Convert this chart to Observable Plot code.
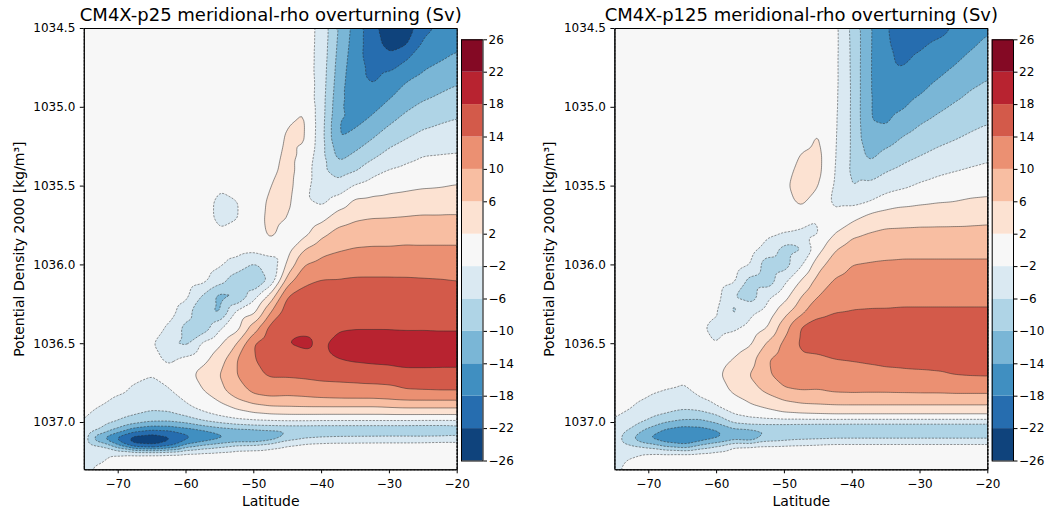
<!DOCTYPE html>
<html>
<head>
<meta charset="utf-8">
<script src="https://cdn.jsdelivr.net/npm/d3@7"></script>
<script src="https://cdn.jsdelivr.net/npm/@observablehq/plot@0.6"></script>
<style>
  html, body { margin: 0; padding: 0; background: #ffffff; }
  #fig { position: relative; width: 1048px; height: 511px; overflow: hidden; background: #ffffff; }
  #fig > svg, #fig > figure { position: absolute; top: 0; margin: 0; }
</style>
</head>
<body>
<div id="fig"></div>
<script>
// ---- data ----
const lat = [-75,-72.5,-70,-67.5,-65,-62.5,-60,-57.5,-55,-52.5,-50,-47.5,-45,-42.5,-40,-37.5,-35,-32.5,-30,-27.5,-25,-22.5,-20];
const rho = [1034.5,1034.6,1034.7,1034.8,1034.9,1035.0,1035.1,1035.2,1035.3,1035.4,1035.5,1035.6,1035.7,1035.8,1035.9,1036.0,1036.1,1036.2,1036.3,1036.4,1036.5,1036.6,1036.7,1036.8,1036.85,1036.9,1036.95,1037.0,1037.05,1037.1,1037.15,1037.2,1037.25,1037.3];

// one array per latitude column (values along rho, Sv)
const p25 = [
 [0,0,0,0,0,0,0,0,0,0,0,0,0,0,0,0,0,0,0,0,0,0,0,0,-0.3,-1.2,-1.6,-1.8,-3,-3.5,-3.5,-3.2,-3,-2.6],
 [0,0,0,0,0,0,0,0,0,0,0,0,0,0,0,0,0,0,0,0,0,0,0,-0.3,-1,-2.2,-2.8,-4.5,-6.5,-15,-5.5,-2.8,-2.2,-1.2],
 [0,0,0,0,0,0,0,0,0,0,0,0,0,0,0,0,0,0,0,0,0,0,-0.5,-1.3,-2.6,-3.6,-4.6,-6.5,-11.5,-20.5,-13,-1.8,-0.8,-0.3],
 [0,0,0,0,0,0,0,0,0,0,0,0,0,0,0,0,0,0,0,0,0,-0.3,-1.3,-2.6,-3.3,-4.6,-5.8,-8.8,-16.5,-25,-21,-1,-0.3,0],
 [0,0,0,0,0,0,0,0,0,0,0,0,0,0,0,0,0,0,0,-0.3,-1.5,-1.2,-1.9,-3.3,-3.8,-5.3,-6.8,-10.3,-18.5,-25.5,-22,-0.8,0,0],
 [0,0,0,0,0,0,0,0,0,0,0,0,0,0,0,0,0,0,-0.5,-2.5,-6.5,-2.6,-0.8,-2.3,-3.2,-5,-6.6,-10.5,-18,-23.5,-19,-0.6,0,0],
 [0,0,0,0,0,0,0,0,0,0,0,0,0,0,0,0,0,-1,-4,-7.5,-6.8,-1,0.5,-0.5,-1.6,-2.5,-5.2,-9.5,-16,-20,-12,-0.5,0,0],
 [0,0,0,0,0,0,0,0,0,0,0,0,0,0,0,0,-0.8,-6.5,-10.5,-8.5,-1,0.8,3.5,1.8,0,-0.8,-3,-7,-14.5,-17.5,-9,-0.4,0,0],
 [0,0,0,0,0,0,0,0,0,0,-1.4,-3.2,-3.2,-1.4,-0.3,-1.5,-4.5,-11.5,-10.8,-2.5,1.5,4,6,5,2.8,0.8,-1.3,-5.5,-12.5,-15.5,-7,-0.3,0,0],
 [0,0,0,0,0,0,0,0,0,0,0,-2.2,-2.2,-0.5,-0.3,-3.5,-8.5,-11,-1,0.5,6,10,10,8,6,2.8,0.2,-4.2,-11.5,-14.5,-5,0,0,0],
 [0,0,0,0,0,0,0,0,0,0,0,0,0.3,0.3,-0.8,-6.5,-10.5,-3.5,1,8,14,13.7,13,10.8,8.5,4.5,1.2,-3.5,-11,-15,-4.5,0,0,0],
 [0,0,0,0,0,0,0,0.2,0.4,1.0,2.0,2.8,3.0,2.6,0.8,-5,-5,3.5,10,15.5,17.3,16.5,14.5,11.2,9.5,5.6,1.8,-3.2,-10.5,-13,-3,0,0,0],
 [0,0,0,0.1,0.4,1.0,1.8,2.5,3.0,3.3,3.2,2.8,2.0,0.7,0.5,3,8,14.3,16,17.4,18.05,16.5,14.5,11,9.3,5.8,2,-3,-10.2,-8,-1.5,0,0,0],
 [0,0,0.1,0.3,0.7,1.9,2.5,2.4,1.3,0.3,-0.5,-1.2,-1.3,0.8,6,10,13.4,15,16.4,17.5,18.5,17,14.8,11.3,9.5,6,2,-3,-10.2,-6,-0.5,0,0,0],
 [-3.3,-3.4,-3.6,-3.8,-4,-4.2,-4.4,-4.6,-4.9,-5.3,-4.8,-2.8,0.5,5,8.5,11.4,14.2,15.3,16.5,17.3,17.5,17.2,15.3,11.8,9.8,6,2,-3.2,-10.3,-5,-0.3,0,0,0],
 [-10.3,-10.8,-11.3,-11.8,-12.4,-13.1,-14.2,-14.1,-11.5,-8,-4.5,-0.3,4.2,7.2,9.6,12,14.2,15.4,16.6,17.6,19,18,15.5,12,10,6,2,-3.2,-10.4,-4.5,-0.3,0,0,0],
 [-15.6,-16,-16.5,-17,-17.3,-16.5,-14.8,-12.3,-9.4,-6.3,-1.5,2.9,5.4,8,10.2,12.6,14.4,15.6,16.7,17.8,19.6,18.5,15.7,12.2,10,6,2,-3.2,-10.4,-4.4,-0.3,0,0,0],
 [-20.5,-20.2,-19.6,-18.8,-17.3,-15.1,-12.7,-10,-7.1,-3.6,0,3.1,5.9,8.2,10.4,12.7,14.4,15.5,16.7,17.8,19.6,18.8,16,12.3,10,6,2,-3.2,-10.4,-4.3,-0.3,0,0,0],
 [-25,-23.5,-20.5,-17.2,-15.1,-12.8,-10.3,-7.6,-4.8,-1.8,0.8,3.3,6,8.2,10.4,12.7,14.4,15.5,16.7,17.8,19.5,19,16.2,12.6,10.3,6.4,2,-3.2,-10.4,-4.2,-0.3,0,0,0],
 [-24.5,-22.3,-18,-14.9,-12.7,-10.6,-8.4,-6,-3.3,-1,1.2,3.6,6.2,8.4,10.6,12.6,14.4,15.5,16.6,17.7,19.5,19.3,16.8,13.6,10.7,6.8,2,-3.2,-10.4,-4.2,-0.3,0,0,0],
 [-19,-17.3,-15.3,-13.4,-11.3,-9.1,-6.9,-4.6,-2.2,-0.3,1.6,4.1,6.4,8.5,10.5,12.5,14.3,15.4,16.5,17.7,19.6,19.3,16.8,13.8,10.7,6.8,2,-3.3,-10.5,-4.2,-0.2,0,0,0],
 [-17.5,-15.8,-14.2,-12.1,-10.2,-8.2,-6.1,-4.1,-2,-0.1,1.8,4,6.4,8.5,10.5,12.4,14.2,15.3,16.4,17.6,19.6,19.3,16.7,14,10.7,6.8,2,-3.3,-10.5,-4,0,0,0,0],
 [-16,-14.8,-13,-11.1,-9.2,-7.3,-5.5,-3.6,-1.8,0.2,2.2,4.3,6.4,8.5,10.5,12.3,14,15.2,16.4,17.6,19.6,19.3,16.7,14,10.7,6.8,2,-3.3,-9.5,-4,0,0,0,0]
];

const p125 = [
 [0,0,0,0,0,0,0,0,0,0,0,0,0,0,0,0,0,0,0,0,0,0,0,0,0,-0.8,-1.6,-2.3,-3,-3.4,-3.4,-3.2,-3,-2.6],
 [0,0,0,0,0,0,0,0,0,0,0,0,0,0,0,0,0,0,0,0,0,0,0,0,-1.2,-1.9,-2.8,-4.3,-6.8,-10.2,-5.5,-2.6,-1.5,-0.8],
 [0,0,0,0,0,0,0,0,0,0,0,0,0,0,0,0,0,0,0,0,0,0,0,-1.5,-2.3,-3.5,-4.8,-7,-11.5,-15,-7.5,-1.5,-0.5,0],
 [0,0,0,0,0,0,0,0,0,0,0,0,0,0,0,0,0,0,0,0,0,0,-0.8,-2.1,-3.2,-4.5,-6.2,-10,-15,-17.2,-11,-1.2,-0.2,0],
 [0,0,0,0,0,0,0,0,0,0,0,0,0,0,0,0,0,0,0,0,0,-0.6,-1.6,-2.4,-3.8,-5.2,-7.5,-11.5,-16.5,-17.8,-13,-0.8,0,0],
 [0,0,0,0,0,0,0,0,0,0,0,0,0,0,0,0,0,0,-0.5,-1.5,-1.6,-0.8,-0.8,-1.6,-2.1,-4.3,-7.8,-11.5,-16,-17,-9,-0.6,0,0],
 [0,0,0,0,0,0,0,0,0,0,0,0,0,0,0,0,0,-0.5,-1.7,-3,-2,0.2,1.2,0.3,-1,-2,-6,-9.5,-14.5,-15,-6,-0.3,0,0],
 [0,0,0,0,0,0,0,0,0,0,0,0,0,0,0,0,-1,-6,-7,-2.6,-0.2,2.2,4,2.5,1.2,-0.5,-2,-5.5,-11.5,-12.5,-2,0,0,0],
 [0,0,0,0,0,0,0,0,0,0,0,0,0,0,-0.5,-2,-7.5,-8,-2.8,-0.5,1.5,4.5,6.2,4.5,2.8,1.5,-0.8,-4.5,-10.8,-14.2,-1.5,0,0,0],
 [0,0,0,0,0,0,0,0,0,0,0,0,-0.3,-1.4,-3.5,-8.5,-8.5,-3,-0.5,2,6.5,9.8,9.5,6.8,4.5,2.5,0.3,-4.3,-10.5,-9,-1.3,0,0,0],
 [0,0,0,0,0,0,0,0,0,0.8,1.5,1.0,0,-2,-7.5,-8,-3,0.5,4.5,8.5,11,12,11.5,9.5,6.5,4,1.2,-4.3,-10.6,-8,-1.2,0,0,0],
 [0,0,0,0,0,0,0.2,0.6,2.2,3.0,3.2,2.6,0.5,-3,-6.5,-2.5,2.3,6,9,14.5,14.8,13.3,11.8,10,7.5,4.8,1.5,-4.5,-10.8,-7,-1,0,0,0],
 [0,0,0,0,0.2,0.6,1.5,2.4,3.0,3.0,2.2,0.3,-1.8,-2.3,0.5,4.5,7.5,10,13.5,14.8,15,13.5,12,9.8,7.9,5,1.8,-4.6,-11,-6.5,-0.8,0,0,0],
 [-0.9,-0.9,-1.0,-1.0,-1.1,-1.2,-1.4,-1.6,-1.8,-2.1,-2.5,-2.8,-1.2,2,5.7,8.2,10.4,12.2,14,15,15.5,14,12.3,10.4,8.2,5.3,2,-4.6,-11,-6,-0.5,0,0,0],
 [-7,-6.8,-6.7,-6.6,-6.5,-6.5,-6.5,-6.5,-6.6,-6.8,-6.2,-3,0.8,5.1,8,10,11.4,12.9,14.2,15.2,15.8,14.2,12.6,10.5,8.3,5.3,2,-4.7,-11,-6,-0.5,0,0,0],
 [-13.3,-13.4,-13.5,-13.6,-13.7,-13.8,-13.7,-13.2,-11.2,-8.2,-5.1,-2,3.2,6.1,8.4,10.3,11.6,13,14.3,15.3,16,14.5,12.8,10.4,8.3,5.3,2,-4.7,-11,-6,-0.5,0,0,0],
 [-17.8,-17.6,-17.5,-17.2,-16.6,-15.6,-14.3,-11.7,-8.9,-6.3,-3.5,-0.2,4.1,6.8,8.8,10.5,11.8,13.1,14.3,15.4,16.2,14.9,13,10.4,8.3,5.3,2,-4.7,-11,-6,-0.5,0,0,0],
 [-19.5,-19.2,-18.5,-17.3,-15.8,-14.3,-12,-9.6,-7.3,-5.1,-2.6,0.9,4.3,6.9,9,10.6,11.9,13.2,14.4,15.5,16.3,15,13.2,10.5,8.3,5.3,2,-4.7,-11,-6,-0.5,0,0,0],
 [-20,-18.6,-17.3,-15.9,-14.4,-12.4,-10.2,-8.2,-6.2,-3.9,-1.4,1.4,4.5,7,9,10.6,11.9,13.2,14.4,15.5,16.5,15.2,13.3,10.6,8.3,5.3,2,-4.7,-11,-6,-0.5,0,0,0],
 [-19.4,-17.4,-15.9,-14.4,-12.7,-10.8,-8.9,-7.1,-5.1,-2.9,-0.6,1.8,4.6,7,9,10.6,11.9,13.2,14.4,15.5,16.5,15.3,13.5,10.6,8.3,5.3,2,-4.7,-11,-6,-0.5,0,0,0],
 [-17.7,-16.2,-14.6,-13,-11.2,-9.5,-7.8,-6.2,-4.2,-2.2,-0.1,2,4.7,7,9,10.6,11.9,13.2,14.4,15.5,16.4,15.4,14,10.8,8.3,5.3,2,-4.7,-11,-6,-0.5,0,0,0],
 [-16,-14.6,-13,-11.4,-9.85,-8.4,-6.9,-5.3,-3.5,-1.6,0.4,2.5,4.9,7,9,10.6,11.9,13.2,14.4,15.6,16.4,15.6,14.2,10.8,8.3,5.3,2,-4.7,-11,-6,-0.5,0,0,0],
 [-14.5,-13.1,-11.7,-10.3,-8.9,-7.5,-6.1,-4.5,-2.8,-1.1,0.7,2.7,5.1,7.1,9,10.6,11.9,13.2,14.4,15.6,16.3,15.6,14.3,10.8,8.3,5.3,2,-4.7,-11,-6,-0.5,0,0,0]
];

const levels = [-26,-22,-18,-14,-10,-6,-2,2,6,10,14,18,22,26];
const bandColors = ["#0f437c","#266daf","#408fc1","#7ab6d6","#afd4e6","#dae9f2","#f7f7f7","#fce2d2","#f8bea2","#eb9072","#d35a4a","#b82330","#840924"];
const xTicks = [-70,-60,-50,-40,-30,-20];
const yTicks = [1034.5,1035.0,1035.5,1036.0,1036.5,1037.0];
const titles = ["CM4X-p25 meridional-rho overturning (Sv)", "CM4X-p125 meridional-rho overturning (Sv)"];
const xLabel = "Latitude";
const yLabel = "Potential Density 2000 [kg/m³]";

// ---- drawing ----
const FONT = "DejaVu Sans, Liberation Sans, sans-serif";
const colorScale = {type: "threshold", domain: levels.slice(1, -1), range: bandColors};
const fillThresholds = levels.slice(0, -1);
const negLines = levels.filter(v => v < 0 && v > -26);
const posLines = levels.filter(v => v > 0 && v < 26);

function samples(cols) {
  const out = [];
  cols.forEach((col, i) => col.forEach((v, j) => out.push({lat: lat[i], rho: rho[j], v})));
  return out;
}

function panel(cols, title, left, marginLeft, marginRight) {
  const data = samples(cols);
  const base = {x: "lat", y: "rho", interpolate: "barycentric", blur: 1};
  const svg = Plot.plot({
    width: 524, height: 511,
    marginLeft, marginRight, marginTop: 28, marginBottom: 41.7,
    style: {fontFamily: FONT, fontSize: "12px", color: "black", background: "transparent", overflow: "visible"},
    x: {domain: [-75, -20], ticks: xTicks, tickFormat: d3.format("d"), tickSize: 4, tickPadding: 6, label: null},
    y: {domain: [1034.5, 1037.3], reverse: true, ticks: yTicks, tickFormat: d3.format(".1f"), tickSize: 4, tickPadding: 5, label: null},
    color: colorScale,
    marks: [
      Plot.contour(data, {...base, fill: "v", thresholds: fillThresholds, stroke: "none"}),
      Plot.contour(data, {...base, value: "v", thresholds: negLines, fill: "none", stroke: "#2a2a2a", strokeWidth: 0.6, strokeOpacity: 0.85, strokeDasharray: "2.2,1.3"}),
      Plot.contour(data, {...base, value: "v", thresholds: posLines, fill: "none", stroke: "#2a2a2a", strokeWidth: 0.6, strokeOpacity: 0.85}),
      Plot.frame({stroke: "black", strokeWidth: 1}),
      Plot.text([title], {text: d => d, frameAnchor: "top", dy: -13.2, fontSize: 18, lineAnchor: "middle", textAnchor: "middle"}),
      Plot.text([xLabel], {text: d => d, frameAnchor: "bottom", dy: 31.7, fontSize: 14, lineAnchor: "middle", textAnchor: "middle"}),
      Plot.text([yLabel], {text: d => d, frameAnchor: "left", dx: -65, rotate: -90, fontSize: 14, lineAnchor: "middle", textAnchor: "middle"})
    ]
  });
  svg.style.left = left + "px";
  return svg;
}

function colorbar(left, width, marginLeft, marginRight) {
  const bands = fillThresholds.map((lo, i) => ({lo, hi: levels[i + 1]}));
  const svg = Plot.plot({
    width, height: 511,
    marginLeft, marginRight, marginTop: 39.3, marginBottom: 50.5,
    style: {fontFamily: FONT, fontSize: "12px", color: "black", background: "transparent", overflow: "visible"},
    x: {domain: [0, 1], axis: null},
    y: {domain: [-26, 26], ticks: levels, tickFormat: d3.format("d"), axis: "right", tickSize: 3.5, tickPadding: 2, label: null},
    color: colorScale,
    marks: [
      Plot.rect(bands, {x1: 0, x2: 1, y1: "lo", y2: "hi", fill: "lo"}),
      Plot.frame({stroke: "black", strokeWidth: 1})
    ]
  });
  svg.style.left = left + "px";
  return svg;
}

const fig = document.getElementById("fig");
fig.appendChild(panel(p25, titles[0], 0, 83.8, 67.3));
fig.appendChild(panel(p125, titles[1], 524, 90.4, 60.7));
fig.appendChild(colorbar(440, 80, 21, 37.5));
fig.appendChild(colorbar(970, 78, 21.7, 35));
</script>
</body>
</html>
